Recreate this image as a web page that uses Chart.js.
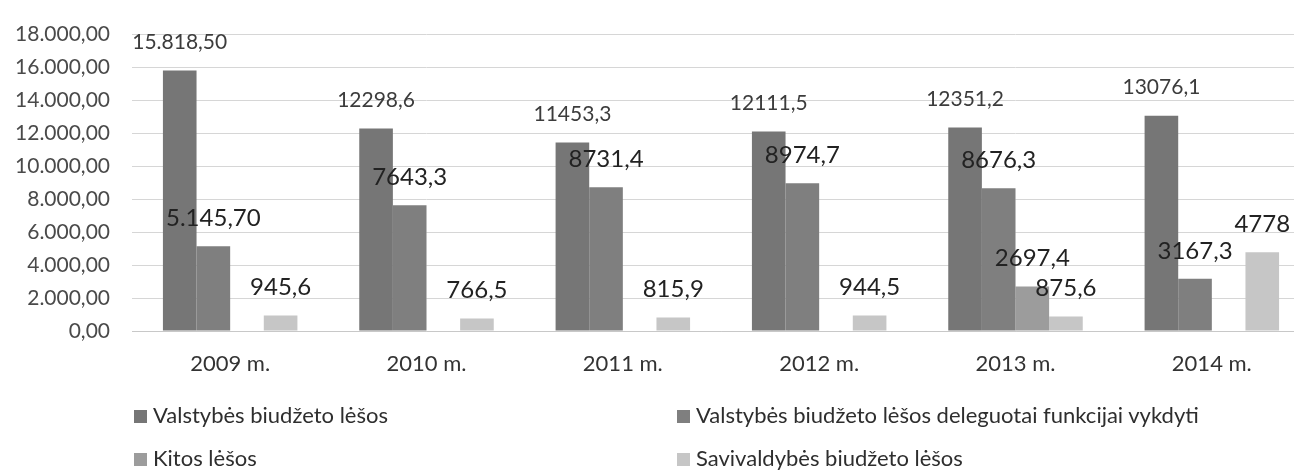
<!DOCTYPE html>
<html>
<head>
<meta charset="utf-8">
<script src="https://cdn.jsdelivr.net/npm/chart.js@4"></script>
<style>
    body { margin: 0; background: #fff; overflow: hidden; }
    #wrap { position: relative; width: 1320px; height: 474px; }
    #legend {
        position: absolute;
        left: 0;
        top: 0;
        font-family: Lato, sans-serif;
        font-size: 22px;
        color: #2e2e2e;
    }
    .item { position: absolute; white-space: nowrap; line-height: 26px; }
    .box { display: inline-block; width: 13px; height: 13px; margin-right: 6px; vertical-align: 0px; }
</style>
</head>
<body>
<div id="wrap">
    <canvas id="chart" width="1320" height="474"></canvas>
    <div id="legend"></div>
</div>
<script>
const years = ["2009 m.", "2010 m.", "2011 m.", "2012 m.", "2013 m.", "2014 m."];

const seriesNames = [
    "Valstybės biudžeto lėšos",
    "Valstybės biudžeto lėšos deleguotai funkcijai vykdyti",
    "Kitos lėšos",
    "Savivaldybės biudžeto lėšos",
];

const valstybes = [15818.5, 12298.6, 11453.3, 12111.5, 12351.2, 13076.1];
const deleguotai = [5145.7, 7643.3, 8731.4, 8974.7, 8676.3, 3167.3];
const kitos = [0, 0, 0, 0, 2697.4, 0];
const savivaldybes = [945.6, 766.5, 815.9, 944.5, 875.6, 4778];

// labels as printed on the original chart
const labelTexts = [
    ["15.818,50", "12298,6", "11453,3", "12111,5", "12351,2", "13076,1"],
    ["5.145,70", "7643,3", "8731,4", "8974,7", "8676,3", "3167,3"],
    ["", "", "", "", "2697,4", ""],
    ["945,6", "766,5", "815,9", "944,5", "875,6", "4778"],
];

const colors = ["#767676", "#7f7f7f", "#9c9c9c", "#c6c6c6"];
const allSeries = [valstybes, deleguotai, kitos, savivaldybes];

function formatTick(v) {
    const parts = v.toFixed(2).split(".");
    const whole = parts[0].replace(/\B(?=(\d{3})+(?!\d))/g, ".");
    return whole + "," + parts[1];
}

const barLabels = {
    id: "barLabels",
    afterDatasetsDraw(chart) {
        const ctx = chart.ctx;
        ctx.save();
        ctx.textAlign = "center";
        ctx.textBaseline = "middle";
        chart.data.datasets.forEach((ds, i) => {
            const meta = chart.getDatasetMeta(i);
            ctx.font = i === 0 ? "21px Lato" : "24px Lato";
            ctx.fillStyle = i === 0 ? "#3c3c3c" : "#222";
            meta.data.forEach((bar, j) => {
                const text = labelTexts[i][j];
                if (!text) return;
                ctx.fillText(text, bar.x, bar.y - 28);
            });
        });
        ctx.restore();
    },
};

new Chart(document.getElementById("chart"), {
    type: "bar",
    data: {
        labels: years,
        datasets: allSeries.map((vals, i) => ({
            label: seriesNames[i],
            data: vals,
            backgroundColor: colors[i],
            borderWidth: 0,
            barPercentage: 1,
            categoryPercentage: 0.685,
        })),
    },
    options: {
        responsive: false,
        animation: false,
        layout: { padding: { top: 21, bottom: 89, left: 0, right: 10 } },
        plugins: {
            legend: { display: false },
            tooltip: { enabled: false },
        },
        scales: {
            x: {
                grid: { display: false, drawTicks: false },
                border: { color: "#c8c8c8" },
                ticks: {
                    font: { family: "Lato", size: 22 },
                    color: "#333",
                    padding: 20,
                },
                afterFit: (s) => { s.height = 54; },
            },
            y: {
                min: 0,
                max: 18000,
                grid: { color: "#d6d6d6", drawTicks: false },
                border: { display: false },
                ticks: {
                    stepSize: 2000,
                    font: { family: "Lato", size: 21 },
                    color: "#4a4a4a",
                    padding: 22,
                    callback: (v) => formatTick(v),
                },
                afterFit: (s) => { s.width = 132; },
            },
        },
    },
    plugins: [barLabels],
});

// legend in two columns like the original
const legend = document.getElementById("legend");
const legendPos = [[134, 402], [677, 402], [134, 445], [677, 445]];
seriesNames.forEach((name, i) => {
    const item = document.createElement("div");
    item.className = "item";
    item.style.left = legendPos[i][0] + "px";
    item.style.top = legendPos[i][1] + "px";
    item.innerHTML = `<span class="box" style="background:${colors[i]}"></span>${name}`;
    legend.appendChild(item);
});
</script>
</body>
</html>
